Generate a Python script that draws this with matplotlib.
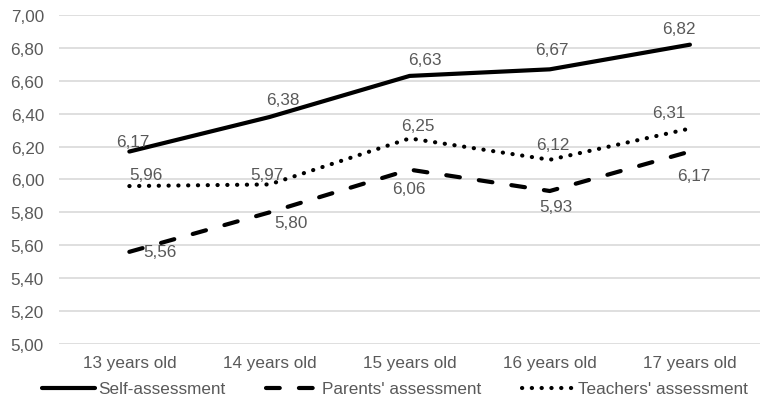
import matplotlib.pyplot as plt
import numpy as np

plt.rcParams['font.family'] = ['Liberation Sans', 'DejaVu Sans']

categories = ["13 years old", "14 years old", "15 years old", "16 years old", "17 years old"]
self_assessment = [6.17, 6.38, 6.63, 6.67, 6.82]
parents_assessment = [5.56, 5.80, 6.06, 5.93, 6.17]
teachers_assessment = [5.96, 5.97, 6.25, 6.12, 6.31]
y_ticks = [5.0, 5.2, 5.4, 5.6, 5.8, 6.0, 6.2, 6.4, 6.6, 6.8, 7.0]

# label centre offsets from each point, in pixels (x right, y up)
self_offsets = [(3, 10), (13, 18), (15, 16), (2, 20), (-11, 16)]
parents_offsets = [(31, 0), (21, -10), (-1, -19), (6, -15), (4, -24)]
teachers_offsets = [(17, 12), (-3, 10), (8, 13), (3, 15), (-21, 16)]

TEXT = '#595959'
GRID = '#d9d9d9'
DPI = 100

fig = plt.figure(figsize=(7.6, 4.02), dpi=DPI)
ax = fig.add_axes([0.078, 0.142, 0.922, 0.818])
x = np.arange(len(categories))

lw = 3.0
l1, = ax.plot(x, self_assessment, color='black', lw=lw, solid_capstyle='round',
              solid_joinstyle='round', label='Self-assessment')
l2, = ax.plot(x, parents_assessment, color='black', lw=lw, dashes=(3.3, 4.6),
              dash_capstyle='round', label="Parents' assessment")
l3, = ax.plot(x, teachers_assessment, color='black', lw=lw, dashes=(0.05, 2.3),
              dash_capstyle='round', label="Teachers' assessment")

fs = 12.3
def fmt(v):
    return f"{v:.2f}".replace('.', ',')

def put_labels(values, offsets):
    for xi, v, (dx, dy) in zip(x, values, offsets):
        ax.annotate(fmt(v), (xi, v), xytext=(dx * 72 / DPI, dy * 72 / DPI),
                    textcoords='offset points', ha='center', va='center',
                    color=TEXT, fontsize=fs)

put_labels(self_assessment, self_offsets)
put_labels(parents_assessment, parents_offsets)
put_labels(teachers_assessment, teachers_offsets)

ax.set_xlim(-0.5, len(categories) - 0.5)
ax.set_ylim(5.0, 7.0)
ax.set_yticks(y_ticks)
ax.set_yticklabels([fmt(v) for v in y_ticks])
ax.set_xticks(x)
ax.set_xticklabels(categories)
ax.tick_params(axis='both', length=0, colors=TEXT, labelsize=fs)
ax.tick_params(axis='y', pad=11)
ax.tick_params(axis='x', pad=8)
ax.grid(axis='y', color=GRID, lw=1.2)
ax.set_axisbelow(True)
for s in ax.spines.values():
    s.set_visible(False)

leg = fig.legend(handles=[l1, l2, l3], loc='center', ncol=3,
                 bbox_to_anchor=(395 / 760, 1 - 390 / 402), frameon=False, fontsize=fs,
                 handlelength=3.1, handletextpad=0.2, columnspacing=2.35,
                 borderpad=0, borderaxespad=0)
for t in leg.get_texts():
    t.set_color(TEXT)

fig.savefig('out.png', dpi=DPI)
